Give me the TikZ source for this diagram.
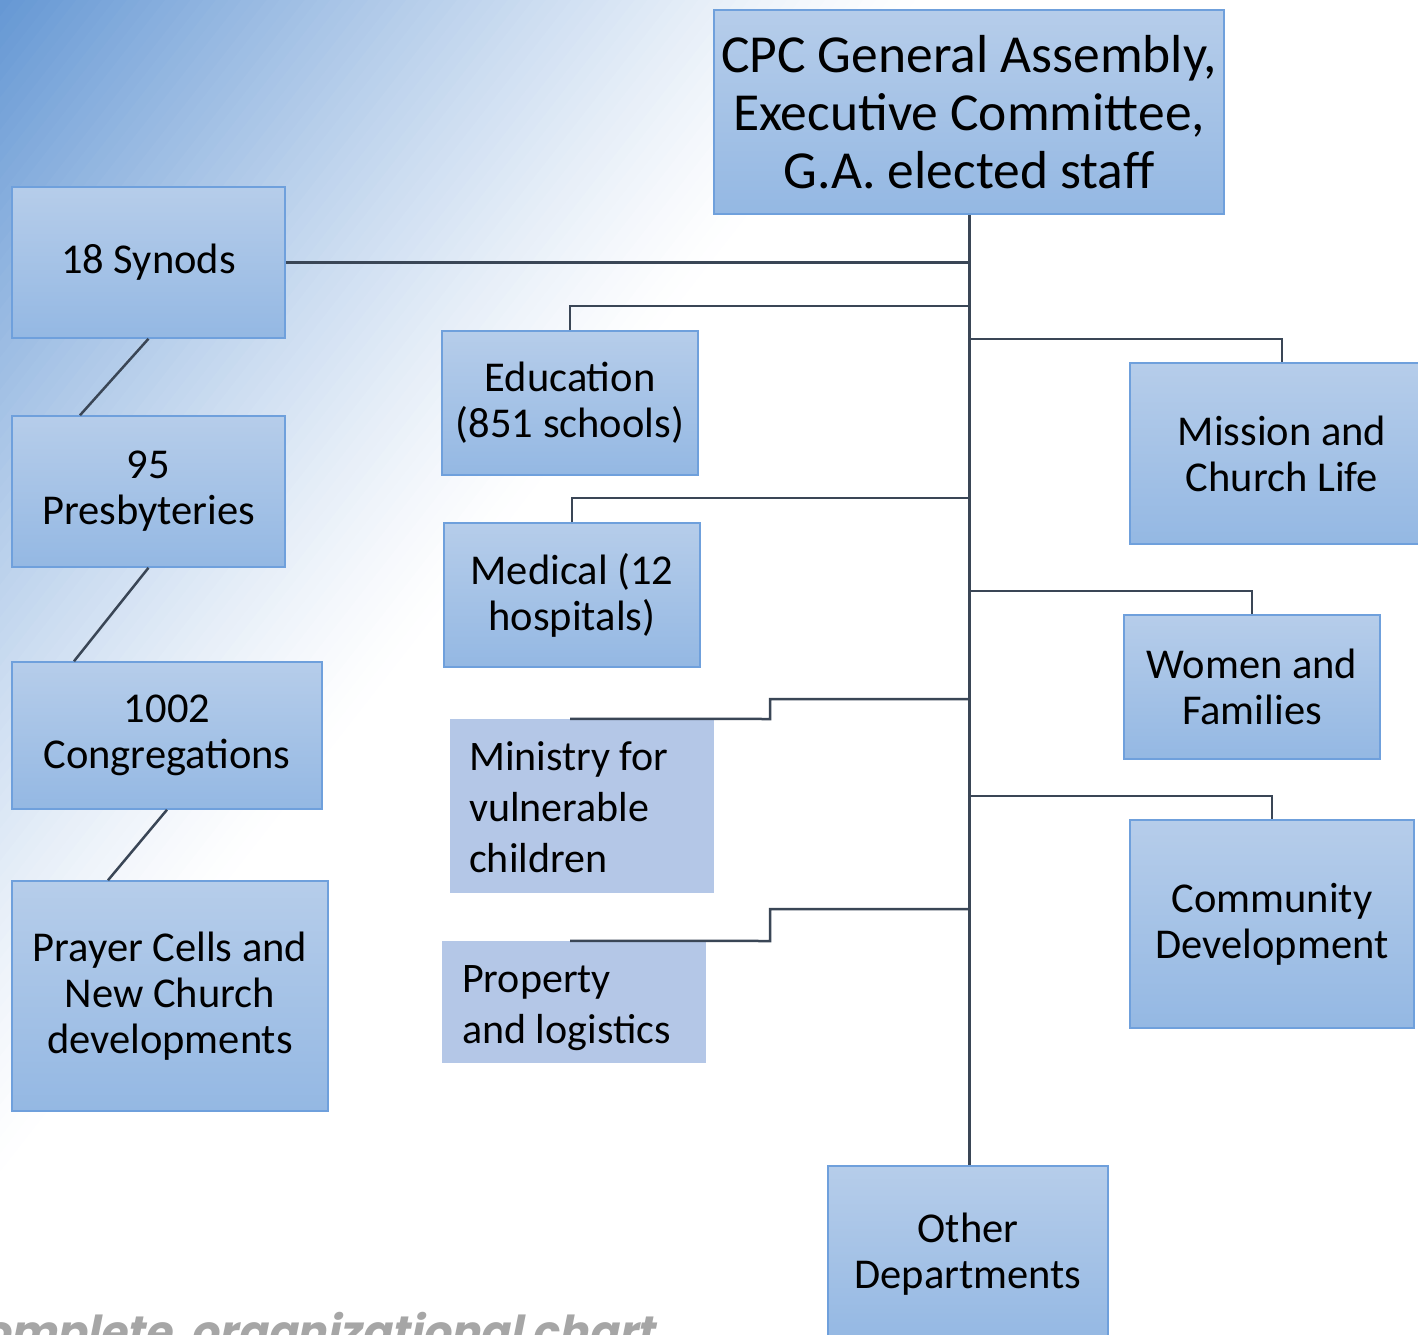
\documentclass[tikz,border=0pt]{standalone}
\usepackage{fontspec}
\setmainfont{Carlito}
\newfontfamily\capfont[FakeSlant=0.2]{Poppins}
\definecolor{boxline}{HTML}{6FA0DC}
\definecolor{boxtop}{HTML}{B6CDEA}
\definecolor{boxbot}{HTML}{94B8E3}
\definecolor{flatfill}{HTML}{B4C7E7}
\definecolor{linec}{HTML}{3A4656}
\definecolor{bg0}{HTML}{6698D4}
\begin{document}
\begin{tikzpicture}[x=1pt,y=-1pt,
  box/.style={draw=boxline, line width=1.5pt, top color=boxtop, bottom color=boxbot, inner sep=0pt, align=center, font=\fontsize{42.5}{46}\selectfont},
  flat/.style={fill=flatfill, inner sep=0pt},
  flattext/.style={anchor=west, inner sep=0pt, align=left, font=\fontsize{42}{51}\selectfont},
  conn/.style={draw=linec, line width=2.5pt},
  trunk/.style={draw=linec, line width=3pt}]
\useasboundingbox (0,0) rectangle (1418,1335);
\clip (0,0) rectangle (1418,1335);
\fill[white] (0,0) rectangle (1418,1335);
\begin{scope}[rotate=-38]
  \foreach \i in {0,...,71}{
    \pgfmathsetmacro\s{100*(1-\i/72)^1.25}
    \fill[bg0!\s!white] (\i*10,-2000) rectangle (\i*10+10.8,2000);
  }
\end{scope}
% boxes
\node[box, minimum width=510pt, minimum height=204pt, font=\fontsize{53.5}{58}\selectfont] (top) at (969,112) {CPC General Assembly,\\Executive Committee,\\G.A. elected staff};
\node[box, minimum width=273pt, minimum height=151pt] (syn) at (148.5,262.5) {18 Synods};
\node[box, minimum width=273pt, minimum height=151pt] (pres) at (148.5,491.5) {95\\Presbyteries};
\node[box, minimum width=310pt, minimum height=147pt] (cong) at (167,735.5) {1002\\Congregations};
\node[box, minimum width=316pt, minimum height=230pt] (pray) at (170,996) {Prayer Cells and\\New Church\\developments};
\node[box, minimum width=256pt, minimum height=144pt] (edu) at (570,403) {Education\\(851 schools)};
\node[box, minimum width=256pt, minimum height=144pt] (med) at (572,595) {Medical (12\\hospitals)};
\node[flat, minimum width=264pt, minimum height=174pt] (min) at (582,806) {};
\node[flattext] (mintext) at (469,807) {Ministry for\\vulnerable\\children};
\node[flat, minimum width=264pt, minimum height=122pt] (prop) at (574,1002) {};
\node[flattext] (proptext) at (462,1008) {Property\\and logistics};
\node[box, minimum width=304pt, minimum height=181pt] (mis) at (1282,453.5) {Mission and\\Church Life};
\node[box, minimum width=256pt, minimum height=144pt] (wom) at (1252,687) {Women and\\Families};
\node[box, minimum width=284pt, minimum height=208pt] (com) at (1272,924) {Community\\Development};
\node[box, minimum width=280pt, minimum height=176pt] (oth) at (968,1254) {Other\\Departments};
% junctions on trunk
\coordinate (j1) at (969,306);
\coordinate (j2) at (969,339);
\coordinate (j3) at (969,498);
\coordinate (j4) at (969,591);
\coordinate (j5) at (969,699);
\coordinate (j6) at (969,796);
\coordinate (j7) at (969,909);
\coordinate (k5) at (770,719);
\coordinate (k7) at (770,941);
% connectors
\draw[trunk] (top.south) -- (top.south |- oth.north);
\draw[conn] (syn.east) -- (syn.east -| top.south);
\draw[conn] (edu.north) |- (j1);
\draw[conn] (j2) -| (mis.north);
\draw[conn] (med.north) |- (j3);
\draw[conn] (j4) -| (wom.north);
\draw[conn] (j5) -| (k5) -- ([xshift=-12pt]min.north);
\draw[conn] (j6) -| (com.north);
\draw[conn] (j7) -| (k7) -- ([xshift=-4pt]prop.north);
\draw[conn] (syn.south) -- ([xshift=-68.5pt]pres.north);
\draw[conn] (pres.south) -- ([xshift=-93pt]cong.north);
\draw[conn] (cong.south) -- ([xshift=-62pt]pray.north);
% footer
\node[anchor=base east, inner sep=0pt, text=black!35, font=\capfont\bfseries\fontsize{44}{50}\selectfont] (foot) at (655,1347) {complete\ \ organizational chart};
\end{tikzpicture}
\end{document}
